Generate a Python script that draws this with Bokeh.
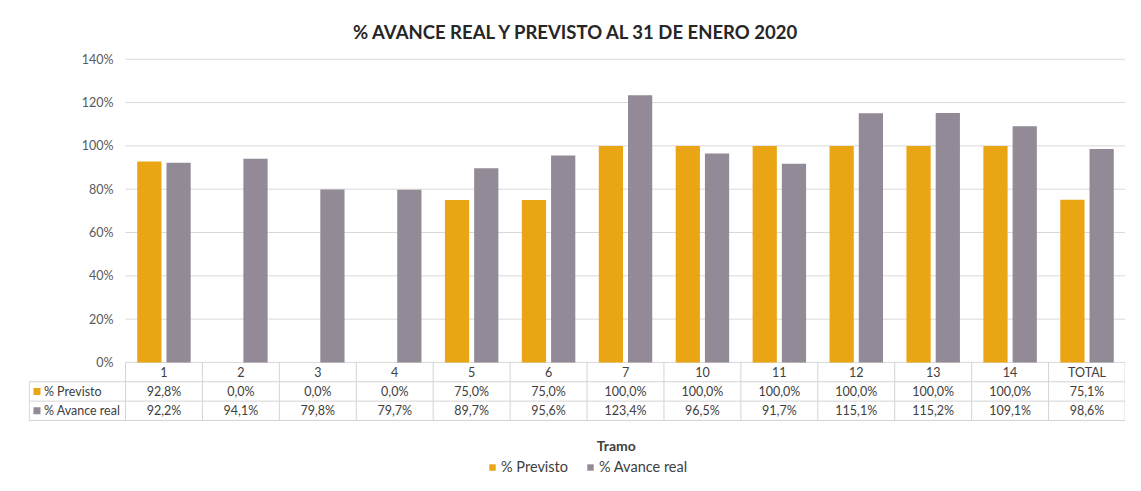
from bokeh.plotting import figure
from bokeh.models import Range1d, FixedTicker, PrintfTickFormatter, Legend, LegendItem
from bokeh.core.properties import value
from bokeh.embed import file_html
from bokeh.resources import INLINE

# ---- data ----
categories = ["1", "2", "3", "4", "5", "6", "7", "10", "11", "12", "13", "14", "TOTAL"]
previsto = [92.8, 0.0, 0.0, 0.0, 75.0, 75.0, 100.0, 100.0, 100.0, 100.0, 100.0, 100.0, 75.1]
avance = [92.2, 94.1, 79.8, 79.7, 89.7, 95.6, 123.4, 96.5, 91.7, 115.1, 115.2, 109.1, 98.6]
series_names = ["% Previsto", "% Avance real"]
y_ticks = [0, 20, 40, 60, 80, 100, 120, 140]
title_text = "% AVANCE REAL Y PREVISTO AL 31 DE ENERO 2020"
x_title = "Tramo"

# ---- style ----
ORANGE = "#E9A514"
GRAY = "#928A96"
TXT = "#404040"
LINE = "#D4D4D4"
FONT = "Lato"

n = len(categories)
LEFT = -1.261          # left edge of the table label column (data units)
ROW = 8.93             # height of one table row (data units)
BOTTOM = -52.2         # bottom of the drawing area (below table, title and legend)

def fmt(v):
    return f"{v:.1f}%".replace(".", ",")

p = figure(width=1125, height=475, output_backend="svg", toolbar_location=None,
           x_range=Range1d(LEFT, n), y_range=Range1d(BOTTOM, 144.5),
           min_border_left=28, min_border_right=0, min_border_top=49, min_border_bottom=0,
           title=title_text)
p.outline_line_color = None
p.title.align = "center"
p.title.text_font = FONT
p.title.text_font_size = "18.5px"
p.title.text_font_style = "bold"
p.title.text_color = "#262626"
p.title.standoff = 13

p.xgrid.visible = False
p.ygrid.visible = False
p.xaxis.visible = False

# y axis drawn at x = 0 (left edge of the plot area)
p.yaxis.fixed_location = 0
p.yaxis.ticker = FixedTicker(ticks=y_ticks)
p.yaxis.formatter = PrintfTickFormatter(format="%d%%")
p.yaxis.axis_line_color = None
p.yaxis.major_tick_line_color = None
p.yaxis.minor_tick_line_color = None
p.yaxis.major_tick_out = 0
p.yaxis.major_label_standoff = 12
p.yaxis.major_label_text_font = FONT
p.yaxis.major_label_text_font_size = "12.5px"
p.yaxis.major_label_text_color = "#595959"

# grid lines over the plot area only
p.segment(x0=[0] * len(y_ticks), x1=[n] * len(y_ticks), y0=y_ticks, y1=y_ticks,
          line_color="#D9D9D9", line_width=1)

# bars
xs = [i + 0.5 for i in range(n)]
r_prev = p.vbar(x=[x - 0.19 for x in xs], top=previsto, width=0.315, bottom=0,
                fill_color=ORANGE, line_color=None)
r_av = p.vbar(x=[x + 0.19 for x in xs], top=avance, width=0.315, bottom=0,
              fill_color=GRAY, line_color=None)

# ---- data table ----
hy = [-ROW, -2 * ROW, -3 * ROW]
p.segment(x0=[LEFT] * 3, x1=[n - 0.005] * 3, y0=hy, y1=hy, line_color=LINE, line_width=1)
vx = list(range(n)) + [n - 0.005]
p.segment(x0=vx, x1=vx, y0=[0] * len(vx), y1=[-3 * ROW] * len(vx), line_color=LINE, line_width=1)
p.segment(x0=[LEFT + 0.01], x1=[LEFT + 0.01], y0=[-ROW], y1=[-3 * ROW], line_color=LINE, line_width=1)

p.text(x=xs, y=[-ROW / 2] * n, text=categories, text_align="center", text_baseline="middle",
       text_font=value(FONT), text_font_size="12.5px", text_color=TXT)
p.text(x=xs, y=[-1.5 * ROW] * n, text=[fmt(v) for v in previsto], text_align="center",
       text_baseline="middle", text_font=value(FONT), text_font_size="12.5px", text_color=TXT)
p.text(x=xs, y=[-2.5 * ROW] * n, text=[fmt(v) for v in avance], text_align="center",
       text_baseline="middle", text_font=value(FONT), text_font_size="12.5px", text_color=TXT)
p.scatter(x=[LEFT + 0.11] * 2, y=[-1.5 * ROW, -2.5 * ROW], marker="square", size=7,
          fill_color=[ORANGE, GRAY], line_color=None)
p.text(x=[LEFT + 0.2] * 2, y=[-1.5 * ROW, -2.5 * ROW], text=series_names, text_align="left",
       text_baseline="middle", text_font=value(FONT), text_font_size="12.5px", text_color=TXT)

# axis title under the table
p.text(x=[6.38], y=[-38.4], text=[x_title], text_align="center", text_baseline="middle",
       text_font=value(FONT), text_font_size="14px", text_font_style="bold", text_color=TXT)

# legend under the axis title (screen units relative to the plot frame)
legend = Legend(items=[LegendItem(label=series_names[0], renderers=[r_prev]),
                       LegendItem(label=series_names[1], renderers=[r_av])],
                orientation="horizontal", location=(460, 0))
legend.border_line_color = None
legend.background_fill_alpha = 0
legend.label_text_font = FONT
legend.label_text_font_size = "14.5px"
legend.label_text_color = TXT
legend.glyph_width = 8
legend.glyph_height = 8
legend.spacing = 18
legend.label_standoff = 5
legend.padding = 0
legend.margin = 0
p.add_layout(legend)

open("out.html", "w").write(file_html(p, INLINE))
